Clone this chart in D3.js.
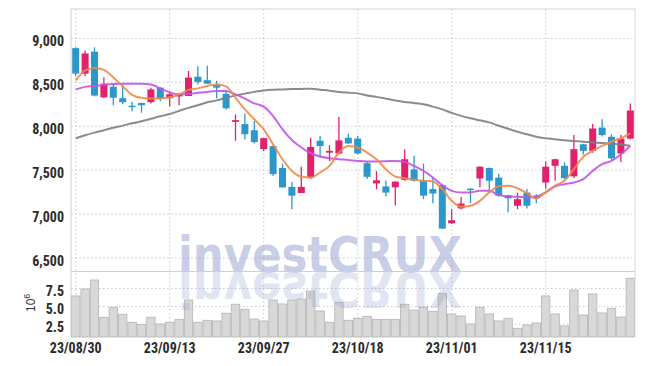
<!DOCTYPE html>
<html><head><meta charset="utf-8">
<script src="https://cdn.jsdelivr.net/npm/d3@7/dist/d3.min.js"></script>
<style>body{margin:0;background:#fff}svg{display:block}</style>
</head><body><svg id="c" width="645" height="366"></svg>
<script>
const dates = ["23/08/30","23/08/31","23/09/01","23/09/04","23/09/05","23/09/06","23/09/07","23/09/08","23/09/11","23/09/12",
"23/09/13","23/09/14","23/09/15","23/09/18","23/09/19","23/09/20","23/09/21","23/09/22","23/09/25","23/09/26",
"23/09/27","23/10/04","23/10/05","23/10/06","23/10/10","23/10/11","23/10/12","23/10/13","23/10/16","23/10/17",
"23/10/18","23/10/19","23/10/20","23/10/23","23/10/24","23/10/25","23/10/26","23/10/27","23/10/30","23/10/31",
"23/11/01","23/11/02","23/11/03","23/11/06","23/11/07","23/11/08","23/11/09","23/11/10","23/11/13","23/11/14",
"23/11/15","23/11/16","23/11/17","23/11/20","23/11/21","23/11/22","23/11/23","23/11/24","23/11/27","23/11/28"];
const open  = [8890,8600,8850,8330,8450,8320,8235,8265,8275,8440,8320,8340,8345,8565,8525,8475,8370,8050,8025,7955,
7740,7775,7525,7310,7240,7415,7835,7700,7690,7870,7860,7580,7350,7315,7305,7390,7510,7385,7285,7330,
6895,7065,7290,7405,7525,7415,7215,7095,7245,7210,7360,7550,7550,7430,7795,7720,7985,7880,7690,7860];
const high  = [8900,8860,8900,8560,8485,8470,8280,8270,8440,8445,8400,8370,8630,8685,8690,8520,8400,8135,8145,8060,
7870,7780,7575,7365,7540,7870,7890,7785,8105,7915,7890,7605,7490,7380,7375,7740,7665,7575,7415,7335,
7055,7195,7295,7545,7530,7460,7220,7245,7285,7225,7600,7630,7590,7900,7800,8025,8080,7910,7900,8260];
const low   = [8570,8570,8340,8320,8240,8250,8170,8155,8260,8285,8225,8240,8345,8475,8485,8320,8190,7835,7850,7805,
7720,7435,7300,7055,7240,7400,7645,7605,7680,7800,7680,7400,7285,7200,7100,7380,7370,7170,7125,6830,
6890,7055,7125,7305,7245,7200,7020,7055,7065,7125,7290,7380,7400,7410,7680,7700,7885,7615,7590,7850];
const close = [8600,8830,8350,8485,8325,8275,8220,8240,8420,8315,8365,8365,8555,8505,8485,8440,8205,8070,7910,7820,
7865,7455,7305,7210,7310,7765,7775,7720,7840,7805,7690,7425,7385,7245,7370,7625,7380,7210,7235,6835,
6930,7120,7275,7540,7380,7210,7180,7170,7095,7180,7540,7625,7410,7740,7720,7975,7900,7635,7860,8180];
const volume = [6.46,7.43,8.68,3.5,4.89,3.92,2.81,2.53,3.5,2.57,2.81,3.22,5.90,2.81,3.08,2.99,4.06,5.31,4.61,3.26,
2.99,5.90,5.35,5.90,6.04,7.15,4.38,2.81,5.58,3.08,3.36,3.64,3.22,3.22,3.22,5.31,4.51,4.89,4.33,6.83,
3.96,3.68,2.57,4.89,3.96,2.99,3.36,1.97,2.43,2.71,6.46,3.96,2.29,7.29,3.82,6.74,4.1,4.75,3.54,8.92];
const ma5 = [8523,8636,8665,8642,8557,8455,8358,8324,8318,8318,8330,8364,8415,8432,8460,8477,8455,8326,8193,8080,
7966,7795,7625,7492,7428,7417,7474,7549,7701,7776,7758,7701,7625,7511,7428,7409,7390,7378,7372,7284,
7151,7083,7094,7151,7247,7318,7324,7295,7239,7176,7250,7324,7381,7511,7653,7719,7776,7824,7864,7920];
const ma10 = [8420,8449,8460,8472,8483,8485,8485,8485,8477,8432,8386,8364,8370,8381,8392,8401,8401,8364,8315,8261,
8224,8117,7966,7844,7758,7693,7656,7636,7625,7617,7606,7599,7599,7602,7606,7595,7549,7492,7417,7330,
7265,7247,7247,7265,7265,7216,7201,7197,7190,7201,7247,7315,7341,7360,7398,7492,7568,7606,7682,7776];
const ma60 = [7864,7898,7928,7955,7983,8008,8034,8057,8085,8114,8140,8176,8210,8239,8273,8295,8324,8352,8372,8392,
8409,8417,8420,8424,8426,8428,8417,8406,8392,8383,8375,8352,8335,8315,8295,8278,8265,8250,8224,8193,
8153,8119,8091,8068,8045,8006,7972,7938,7909,7881,7864,7852,7841,7833,7824,7818,7810,7803,7792,7778];
const priceTicks = [6500,7000,7500,8000,8500,9000];
const volTicks = [2.5,5.0,7.5];
const dateTicks = ["23/08/30","23/09/13","23/09/27","23/10/18","23/11/01","23/11/15"];

const svg = d3.select("#c");
const L = 71, R = 635, PT = 9, PB = 271, VT = 272, VB = 337;
const up = "#e0216c", down = "#2c97ca", grid = "#c5c9d8";
const axisFont = "'Liberation Sans Narrow','Roboto Condensed','DejaVu Sans Condensed',sans-serif";

const x = d3.scaleBand().domain(dates).range([L, R]).padding(0);
const y = d3.scaleLinear().domain([6500, 9000]).range([258, 38.5]);
const yv = d3.scaleLinear().domain([0.76, 9.79]).range([VB, VT]);
const cx = d => x(d) + x.bandwidth() / 2;

// grids
const g = svg.append("g");
g.selectAll(".hg").data(priceTicks).join("line")
  .attr("x1", L).attr("x2", R).attr("y1", d => y(d)).attr("y2", d => y(d))
  .attr("stroke", grid).attr("stroke-dasharray", "1.5,2.5");
g.selectAll(".hv").data(volTicks).join("line")
  .attr("x1", L).attr("x2", R).attr("y1", d => yv(d)).attr("y2", d => yv(d))
  .attr("stroke", grid).attr("stroke-dasharray", "1.5,2.5");
g.selectAll(".vg").data(dateTicks).join("line")
  .attr("x1", d => cx(d)).attr("x2", d => cx(d)).attr("y1", PT).attr("y2", VB)
  .attr("stroke", grid).attr("stroke-dasharray", "1.5,2.5");

// volume bars
svg.append("g").selectAll("rect").data(dates).join("rect")
  .attr("x", d => x(d) + 0.5).attr("width", x.bandwidth() - 1)
  .attr("y", (d, i) => yv(volume[i])).attr("height", (d, i) => VB - yv(volume[i]))
  .attr("fill", "#d8d8d8").attr("stroke", "#b4b4b4").attr("stroke-width", 0.8);

// watermark
const wm = svg.append("g").attr("font-family", "'DejaVu Sans','Liberation Sans',Arial,sans-serif").attr("font-weight", "bold").attr("font-size", 50);
wm.append("text").attr("x", 178).attr("y", 272).attr("textLength", 284).attr("lengthAdjust", "spacingAndGlyphs")
  .attr("fill", "#8a98c8").attr("fill-opacity", 0.48).text("investCRUX");
wm.append("text").attr("x", 178).attr("y", 272).attr("textLength", 284).attr("lengthAdjust", "spacingAndGlyphs")
  .attr("transform", "translate(0,544) scale(1,-1)")
  .attr("fill", "#8a98c8").attr("fill-opacity", 0.25).text("investCRUX");

// frame
svg.append("line").attr("x1", L).attr("x2", R).attr("y1", PT).attr("y2", PT).attr("stroke", "#d4d4d4");
svg.append("line").attr("x1", L).attr("x2", R).attr("y1", VT - 0.5).attr("y2", VT - 0.5).attr("stroke", "#cfcfcf");
svg.append("line").attr("x1", L).attr("x2", L).attr("y1", PT).attr("y2", VB).attr("stroke", "#cfcfcf");
svg.append("line").attr("x1", R).attr("x2", R).attr("y1", PT).attr("y2", VB).attr("stroke", "#d8d8d8");

// candles
const bw = 7;
const cg = svg.append("g");
dates.forEach((d, i) => {
  const col = close[i] >= open[i] ? up : down;
  cg.append("line").attr("x1", cx(d)).attr("x2", cx(d)).attr("y1", y(high[i])).attr("y2", y(low[i]))
    .attr("stroke", col).attr("stroke-width", 1.3);
  const t = y(Math.max(open[i], close[i])), b = y(Math.min(open[i], close[i]));
  cg.append("rect").attr("x", cx(d) - bw / 2).attr("width", bw).attr("y", t).attr("height", Math.max(1.5, b - t))
    .attr("fill", col);
});

// moving averages
const line = arr => d3.line().x((d, i) => cx(dates[i])).y(d => y(d)).curve(d3.curveMonotoneX)(arr);
[[ma60, "#7f7f7f"], [ma10, "#c452ea"], [ma5, "#f0894a"]].forEach(([arr, c]) => {
  svg.append("path").attr("d", line(arr)).attr("fill", "none").attr("stroke", c)
    .attr("stroke-width", 2).attr("stroke-opacity", 0.9).attr("stroke-linejoin", "round");
});

// axes
const ay = svg.append("g").attr("transform", `translate(${L},0)`)
  .call(d3.axisLeft(y).tickValues(priceTicks).tickFormat(d3.format(",")).tickSize(0).tickPadding(7));
const av = svg.append("g").attr("transform", `translate(${L},0)`)
  .call(d3.axisLeft(yv).tickValues(volTicks).tickFormat(d3.format(".1f")).tickSize(0).tickPadding(7));
const ax = svg.append("g").attr("transform", `translate(0,${VB})`)
  .call(d3.axisBottom(x).tickValues(dateTicks).tickSize(0).tickPadding(6));
[ay, av, ax].forEach(a => {
  a.select(".domain").remove();
  a.selectAll("text").attr("font-family", axisFont).attr("font-size", 14).attr("font-weight", "bold").attr("fill", "#2a2a2a");
});
ay.selectAll("text").attr("dy", "0.5em");
av.selectAll("text").attr("dy", "0.5em");

// volume unit label
const ul = svg.append("text").attr("transform", "translate(35,312) rotate(-90)")
  .attr("font-family", "'Liberation Sans','DejaVu Sans',sans-serif").attr("font-size", 12).attr("fill", "#333");
ul.append("tspan").text("10");
ul.append("tspan").attr("dy", -5).attr("font-size", 9).text("6");
</script></body></html>
